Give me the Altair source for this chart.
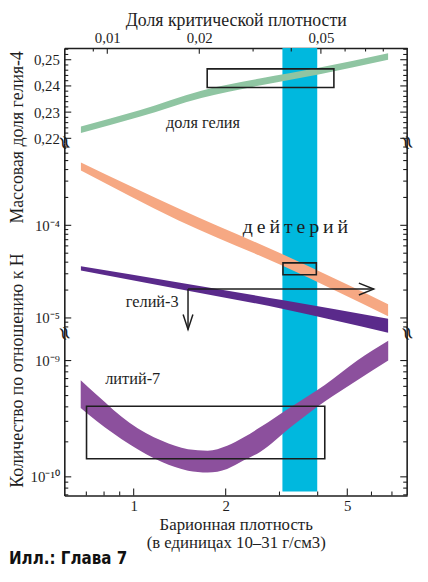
import altair as alt
import pandas as pd

# ---------------- data ----------------
# baryon density in units of 1e-31 g/cm3
he4_rho = [0.672, 1.045, 1.665, 2.584, 4.026, 6.80]
he4_hi = [0.2245, 0.2307, 0.2382, 0.2428, 0.2469, 0.2525]
he4_lo = [0.2220, 0.2282, 0.2354, 0.2402, 0.2444, 0.2500]

d_rho = [0.672, 1.403, 3.06, 6.80]
d_hi = [4.78e-4, 1.52e-4, 4.89e-5, 1.41e-5]
d_lo = [3.90e-4, 1.13e-4, 3.68e-5, 1.04e-5]

he3_rho = [0.672, 1.403, 3.06, 6.80]
he3_hi = [3.61e-5, 2.41e-5, 1.56e-5, 9.8e-6]
he3_lo = [3.25e-5, 2.05e-5, 1.26e-5, 6.93e-6]

li_rho = [0.671, 0.758, 0.969, 1.238, 1.506, 1.746, 2.022, 2.285, 2.584, 3.300, 4.220, 5.390, 6.806]
li_hi = [6.78e-10, 5.06e-10, 2.92e-10, 2.04e-10, 1.73e-10, 1.68e-10, 1.85e-10,
         2.18e-10, 2.65e-10, 4.04e-10, 6.15e-10, 1.0e-9, 1.48e-9]
li_lo = [3.91e-10, 3.01e-10, 1.91e-10, 1.34e-10, 1.13e-10, 1.09e-10, 1.17e-10,
         1.38e-10, 1.63e-10, 2.74e-10, 4.45e-10, 6.78e-10, 1.0e-9]

# observational boxes
he4_box_rho, he4_box_y = [1.74, 4.52], [0.2394, 0.2465]
d_box_rho, d_box_y = [3.08, 3.96], [2.93e-5, 3.93e-5]
li_box_rho, li_box_y = [0.701, 4.22], [1.43e-10, 4.04e-10]
cmb_rho = [3.067, 3.987]
he3_lim_rho, he3_lim_y = [1.506, 6.10], [2.05e-5, 7.52e-6]

# labels: text, density, value
lab_he4 = ("доля гелия", 1.686, 0.2257)
lab_d = ("д\u2009е\u2009й\u2009т\u2009е\u2009р\u2009и\u2009й", 3.383, 9.5e-5)
lab_he3 = ("гелий-3", 1.15, 1.5e-5)
lab_li = ("литий-7", 0.993, 7.0e-10)

# ticks
he_major = [0.22, 0.23, 0.24, 0.25]
he_minor = [0.222, 0.224, 0.226, 0.228, 0.232, 0.234, 0.236, 0.238,
            0.242, 0.244, 0.246, 0.248, 0.252, 0.254]
mid_major = [1e-5, 1e-4]
mid_minor = [8e-6, 9e-6, 2e-5, 3e-5, 4e-5, 5e-5, 6e-5, 7e-5, 8e-5, 9e-5,
             2e-4, 3e-4, 4e-4, 5e-4, 6e-4, 7e-4]
li_major = [1e-10, 1e-9]
li_minor = [7e-11, 8e-11, 9e-11, 2e-10, 3e-10, 4e-10, 5e-10, 6e-10, 7e-10, 8e-10, 9e-10]
omega_major = [0.01, 0.02, 0.05]
omega_minor = [0.009, 0.03, 0.04, 0.06, 0.07, 0.08]
rho_major = [1, 2, 5]
rho_minor = [0.7, 0.8, 0.9, 3, 4, 6, 7]

K = 0.0122  # fraction of critical density per unit of baryon density

# ---------------- styles ----------------
W = 347
H1, H2, H3 = 96, 193, 164
H = H1 + H2 + H3
SERIF = "Liberation Serif"
INK = "#1e1e1e"
GREEN, SALMON, DPURPLE, LPURPLE, CYAN = "#8fc5a2", "#f6a883", "#5a2a8b", "#8c509d", "#00b8de"

xs = alt.Scale(type="log", domain=[0.593, 7.85], nice=False)
ys1 = alt.Scale(type="linear", domain=[0.2183, 0.2545], range=[H1, 0], nice=False, zero=False)
ys2 = alt.Scale(type="log", domain=[6.8e-6, 7.78e-4], range=[H1 + H2, H1], nice=False)
ys3 = alt.Scale(type="log", domain=[6.91e-11, 1.71e-9], range=[H, H1 + H2], nice=False)

AX = dict(ticks=False, grid=False, domain=True, domainColor=INK, domainWidth=1.6,
          labelFont=SERIF, labelFontSize=15, labelColor=INK, labelOverlap=False,
          titleFont=SERIF, titleFontSize=18, titleFontWeight="normal", titleColor=INK)


def frame(**cols):
    return pd.DataFrame(cols)


def band(data, color, ys, xaxis=None, yaxis=None):
    return alt.Chart(data).mark_area(color=color, opacity=1, interpolate="monotone").encode(
        x=alt.X("rho:Q", scale=xs, axis=xaxis),
        y=alt.Y("hi:Q", scale=ys, axis=yaxis),
        y2=alt.Y2("lo"))


def box(rr, yy, ys):
    return alt.Chart(frame(x0=[rr[0]], x1=[rr[1]], y0=[yy[0]], y1=[yy[1]])).mark_rect(
        fillOpacity=0, stroke=INK, strokeWidth=1.6).encode(
        x=alt.X("x0:Q", scale=xs, axis=None), x2=alt.X2("x1"),
        y=alt.Y("y0:Q", scale=ys, axis=None), y2=alt.Y2("y1"))


def label(lab, ys, size):
    t, r, v = lab
    return alt.Chart(frame(t=[t], r=[r], v=[v])).mark_text(
        font=SERIF, fontSize=size, color=INK).encode(
        x=alt.X("r:Q", scale=xs, axis=None), y=alt.Y("v:Q", scale=ys, axis=None), text="t:N")


def yticks(vals, ys, L):
    base = alt.Chart(frame(v=vals)).mark_rule(color=INK, strokeWidth=1.1)
    yy = alt.Y("v:Q", scale=ys, axis=None)
    return [base.encode(y=yy, x=alt.value(0), x2=alt.value(L)),
            base.encode(y=yy, x=alt.value(W), x2=alt.value(W - L))]


def xticks(vals, L, top):
    if top:
        y0, y1 = alt.value(0), alt.value(L)
    else:
        y0, y1 = alt.value(H), alt.value(H - L)
    return alt.Chart(frame(r=vals)).mark_rule(color=INK, strokeWidth=1.1).encode(
        x=alt.X("r:Q", scale=xs, axis=None), y=y0, y2=y1)


def breaks(y):
    base = alt.Chart(frame(t=["≈"])).mark_text(font="DejaVu Serif", fontSize=20, angle=70, color=INK)
    return [base.encode(text="t:N", x=alt.value(0), y=alt.value(y)),
            base.encode(text="t:N", x=alt.value(W), y=alt.value(y))]


# ---------------- axes ----------------
top_axis = alt.Axis(orient="top", values=[o / K for o in omega_major],
                    labelExpr="replace(format(datum.value * %g, '.2f'), '.', ',')" % K,
                    labelPadding=2, labelFlush=False,
                    title="Доля критической плотности", titlePadding=2, **AX)
y1_axis = alt.Axis(orient="left", values=he_major,
                   labelExpr="replace(format(datum.value, '.2f'), '.', ',')", labelPadding=5,
                   title="Массовая доля гелия-4", titleAngle=270, titleX=-47, titleY=90,
                   titleAlign="center", titleBaseline="middle", **AX)
y2_axis = alt.Axis(orient="left", values=mid_major,
                   labelExpr="datum.value > 3e-5 ? '10⁻⁴' : '10⁻⁵'", labelPadding=5,
                   title="Количество по отношению к Н", titleAngle=270, titleX=-47, titleY=326,
                   titleAlign="center", titleBaseline="middle", **AX)
y3_axis = alt.Axis(orient="left", values=li_major,
                   labelExpr="datum.value > 3e-10 ? '10⁻⁹' : '10⁻¹⁰'", labelPadding=5,
                   title=None, **AX)
AXB = dict(AX, titleFontSize=17)
x3_axis = alt.Axis(orient="bottom", values=rho_major, format="d", labelPadding=3, labelFlush=False,
                   title=["Барионная плотность", "(в единицах 10–31 г/см3)"],
                   titlePadding=3, titleLineHeight=18.5, **AXB)

# ---------------- layers ----------------
cmb = alt.Chart(frame(a=[cmb_rho[0]], b=[cmb_rho[1]])).mark_rect(color=CYAN).encode(
    x=alt.X("a:Q", scale=xs, axis=None), x2=alt.X2("b"),
    y=alt.value(0), y2=alt.value(H - 4))

arrow_h = alt.Chart(frame(r0=[he3_lim_rho[0]], r1=[he3_lim_rho[1]], v=[he3_lim_y[0]])).mark_rule(
    color=INK, strokeWidth=1.5).encode(
    x=alt.X("r0:Q", scale=xs, axis=None), x2=alt.X2("r1"), y=alt.Y("v:Q", scale=ys2, axis=None))
arrow_v = alt.Chart(frame(r=[he3_lim_rho[0]], v0=[he3_lim_y[0]], v1=[he3_lim_y[1]])).mark_rule(
    color=INK, strokeWidth=1.5).encode(
    x=alt.X("r:Q", scale=xs, axis=None), y=alt.Y("v0:Q", scale=ys2, axis=None), y2=alt.Y2("v1"))
head_r = alt.Chart(frame(r=[he3_lim_rho[1]], v=[he3_lim_y[0]])).mark_point(
    shape="M -1 -0.4 L 0 0 L -1 0.4", size=900, filled=False, color=INK, strokeWidth=1.5,
    opacity=1).encode(x=alt.X("r:Q", scale=xs, axis=None), y=alt.Y("v:Q", scale=ys2, axis=None))
head_d = alt.Chart(frame(r=[he3_lim_rho[0]], v=[he3_lim_y[1]])).mark_point(
    shape="M -0.33 -1 L 0 0 L 0.33 -1", size=900, filled=False, color=INK, strokeWidth=1.5,
    opacity=1).encode(x=alt.X("r:Q", scale=xs, axis=None), y=alt.Y("v:Q", scale=ys2, axis=None))

edges = alt.Chart(frame(a=[0])).mark_rule(color=INK, strokeWidth=1.6).encode(
    x=alt.value(W), y=alt.value(0), y2=alt.value(H))

layers = [
    cmb,
    band(frame(rho=he4_rho, hi=he4_hi, lo=he4_lo), GREEN, ys1, xaxis=top_axis, yaxis=y1_axis),
    band(frame(rho=d_rho, hi=d_hi, lo=d_lo), SALMON, ys2, yaxis=y2_axis),
    band(frame(rho=he3_rho, hi=he3_hi, lo=he3_lo), DPURPLE, ys2),
    band(frame(rho=li_rho, hi=li_hi, lo=li_lo), LPURPLE, ys3, xaxis=x3_axis, yaxis=y3_axis),
    box(he4_box_rho, he4_box_y, ys1),
    box(d_box_rho, d_box_y, ys2),
    box(li_box_rho, li_box_y, ys3),
    arrow_h, arrow_v, head_r, head_d,
    label(lab_he4, ys1, 16.5), label(lab_d, ys2, 20),
    label(lab_he3, ys2, 16.5), label(lab_li, ys3, 16.5),
    *yticks(he_major, ys1, 7), *yticks(he_minor, ys1, 4),
    *yticks(mid_major, ys2, 7), *yticks(mid_minor, ys2, 4),
    *yticks(li_major, ys3, 7), *yticks(li_minor, ys3, 4),
    xticks([o / K for o in omega_major], 6, True),
    xticks([o / K for o in omega_minor], 3.5, True),
    xticks(rho_major, 7, False), xticks(rho_minor, 4, False),
    edges,
    *breaks(H1), *breaks(H1 + H2),
]

chart = alt.layer(*layers).resolve_scale(x="independent", y="independent").properties(
    width=W, height=H, padding=0,
    title=alt.TitleParams("Илл.: Глава 7", orient="bottom", anchor="start",
                          font="DejaVu Sans Condensed", fontSize=17, fontWeight="bold",
                          color="#111111", offset=1),
).configure_view(stroke="transparent")

chart.save("out.html", embed_options={"renderer": "svg", "actions": False})
